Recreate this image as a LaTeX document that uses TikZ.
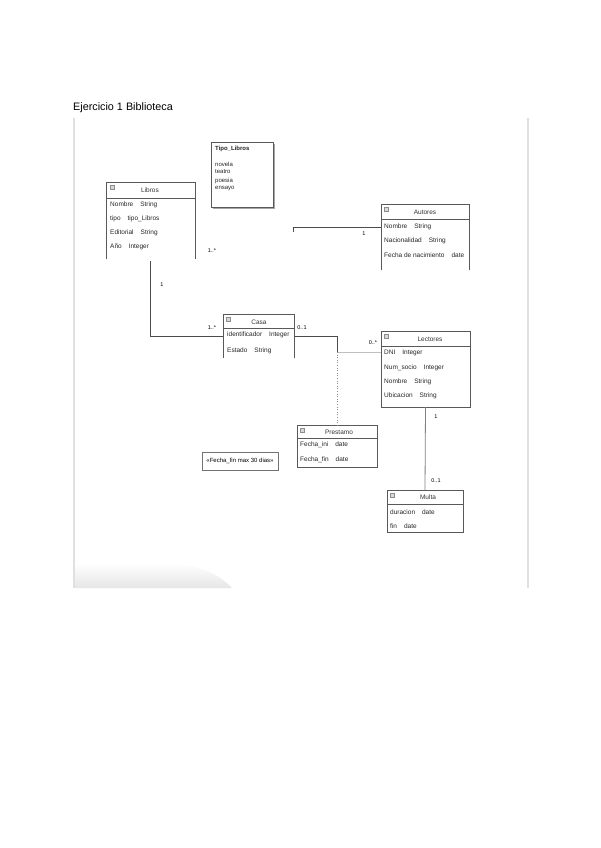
\documentclass[tikz,border=0pt]{standalone}
\usepackage{fontspec}
\setmainfont{Liberation Sans}
\usepackage{tikz}

\tikzset{
  caja/.style={inner sep=0pt, outer sep=0pt, anchor=north west},
  borde/.style={draw=black!65, line width=0.8pt},
  cab/.style={inner sep=0pt, font=\fontsize{6.5}{7.5}\selectfont, text=black!80},
  attr/.style={inner sep=0pt, anchor=west, font=\fontsize{6.5}{7.5}\selectfont, text=black!85},
  mult/.style={inner sep=0pt, font=\fontsize{5.5}{6}\selectfont},
  linea/.style={draw=black!70, line width=0.8pt},
  icono/.style={draw=black!45, fill=black!15, line width=0.4pt}
}

\begin{document}
\begin{tikzpicture}[x=1pt, y=-1pt]
    \useasboundingbox[fill=white] (0,0) rectangle (600,848);

    % Titulo y marco
    \node[anchor=west, inner sep=0pt, font=\fontsize{10.8}{12}\selectfont] (titulo) at (73,108) {Ejercicio 1 Biblioteca};
    \draw[black!12, line width=1.6pt] (74,118) -- (74,588);
    \draw[black!12, line width=1.6pt] (528,118) -- (528,588);
    \shade[top color=white, bottom color=black!10] (75,563) -- (75,588) -- (232,588) .. controls (214,569) and (190,563) .. (150,563) -- cycle;

    % Tipo_Libros
    \node[caja, minimum width=62pt, minimum height=65pt] (tipos) at (211,142) {};
    \draw[black!35, line width=1.4pt] ([xshift=1pt,yshift=-2pt]tipos.north east) -- ([xshift=1pt,yshift=-1pt]tipos.south east) -- ([xshift=2pt,yshift=-1pt]tipos.south west);
    \draw[borde] (tipos.north west) rectangle (tipos.south east);
    \node[attr, font=\bfseries\fontsize{6}{7}\selectfont] (tipos-t) at (215,149) {Tipo\_Libros};
    \foreach \y/\txt [count=\i] in {164/novela, 172/teatro, 181/poesia, 189/ensayo} {
        \node[attr, font=\fontsize{6}{7}\selectfont] (tipos\i) at (215,\y) {\txt};
    }

    % Libros
    \node[caja, minimum width=89pt, minimum height=77pt] (libros) at (106,182) {};
    \draw[borde] (libros.south west) |- (libros.north east) -- (libros.south east);
    \draw[borde] (106,198) -- (195,198);
    \draw[icono] (110,185) rectangle (114,189);
    \node[cab] (libros-t) at (150,190) {Libros};
    \foreach \y/\txt [count=\i] in {205/Nombre\hspace{7pt}String, 219/tipo\hspace{7pt}tipo\_Libros, 233/Editorial\hspace{7pt}String, 247/Año\hspace{7pt}Integer} {
        \node[attr] (libros\i) at (110,\y) {\txt};
    }

    % Autores
    \node[caja, minimum width=88pt, minimum height=66pt] (autores) at (381,204) {};
    \draw[borde] (autores.south west) |- (autores.north east) -- (autores.south east);
    \draw[borde] (381,219) -- (469,219);
    \draw[icono] (384,207) rectangle (388,211);
    \node[cab] (autores-t) at (425,212) {Autores};
    \foreach \y/\txt [count=\i] in {227/Nombre\hspace{7pt}String, 241/Nacionalidad\hspace{7pt}String, 255/Fecha de nacimiento\hspace{7pt}date} {
        \node[attr] (autores\i) at (384,\y) {\txt};
    }

    % Casa
    \node[caja, minimum width=71pt, minimum height=44pt] (casa) at (223,314) {};
    \draw[borde] (casa.south west) |- (casa.north east) -- (casa.south east);
    \draw[borde] (223,328) -- (294,328);
    \draw[icono] (226,317) rectangle (230,321);
    \node[cab] (casa-t) at (259,322) {Casa};
    \foreach \y/\txt [count=\i] in {335/identificador\hspace{7pt}Integer, 351/Estado\hspace{7pt}String} {
        \node[attr] (casa\i) at (227,\y) {\txt};
    }

    % Lectores
    \node[caja, minimum width=89pt, minimum height=76pt] (lectores) at (381,331) {};
    \draw[borde] (lectores.north west) rectangle (lectores.south east);
    \draw[borde] (381,346) -- (470,346);
    \draw[icono] (384,334) rectangle (388,338);
    \node[cab] (lectores-t) at (430,339) {Lectores};
    \foreach \y/\txt [count=\i] in {353/DNI\hspace{7pt}Integer, 368/Num\_socio\hspace{7pt}Integer, 382/Nombre\hspace{7pt}String, 396/Ubicacion\hspace{7pt}String} {
        \node[attr] (lectores\i) at (384,\y) {\txt};
    }

    % Prestamo
    \node[caja, minimum width=80pt, minimum height=42pt] (prestamo) at (297,425) {};
    \draw[borde] (prestamo.north west) rectangle (prestamo.south east);
    \draw[borde] (297,438) -- (377,438);
    \draw[icono] (300,428) rectangle (304,432);
    \node[cab] (prestamo-t) at (339,432) {Prestamo};
    \foreach \y/\txt [count=\i] in {445/Fecha\_ini\hspace{7pt}date, 460/Fecha\_fin\hspace{7pt}date} {
        \node[attr] (prestamo\i) at (300,\y) {\txt};
    }

    % Multa
    \node[caja, minimum width=76pt, minimum height=42pt] (multa) at (387,490) {};
    \draw[borde] (multa.north west) rectangle (multa.south east);
    \draw[borde] (387,504) -- (463,504);
    \draw[icono] (390,493) rectangle (394,497);
    \node[cab] (multa-t) at (428,497) {Multa};
    \foreach \y/\txt [count=\i] in {512/duracion\hspace{7pt}date, 526/fin\hspace{7pt}date} {
        \node[attr] (multa\i) at (390,\y) {\txt};
    }

    % Nota
    \node[draw=black!55, line width=0.6pt, minimum width=76pt, minimum height=18pt, inner sep=0pt, font=\fontsize{6}{7}\selectfont] (nota) at (240,461) {«Fecha\_fin max 30 dias»};

    % Asociaciones
    \coordinate (libros-pie) at ([yshift=-2pt]libros.south);
    \draw[linea] (libros-pie) |- (casa.west);
    \node[mult] (m1) at (162,285) {1};
    \node[mult] (m2) at (212,328) {1..*};

    \coordinate (codo) at (293,232);
    \draw[linea] (codo) |- ([yshift=-23pt]autores.north west);
    \node[mult] (m3) at (364,234) {1};
    \node[mult] (m4) at (212,251) {1..*};

    \coordinate (union) at (337,352);
    \draw[linea] (casa.east) -| (union);
    \draw[black!25, line width=0.8pt] (union) -- (union -| lectores.west);
    \draw[black!45, line width=0.6pt, dotted] (union) -- (prestamo.north);
    \node[mult] (m5) at (302,328) {0..1};
    \node[mult] (m6) at (373,343) {0..*};

    \draw[black!50, line width=0.8pt] (lectores.south) -- (multa.north);
    \node[mult] (m7) at (436,417) {1};
    \node[mult] (m8) at (436,481) {0..1};
\end{tikzpicture}
\end{document}
